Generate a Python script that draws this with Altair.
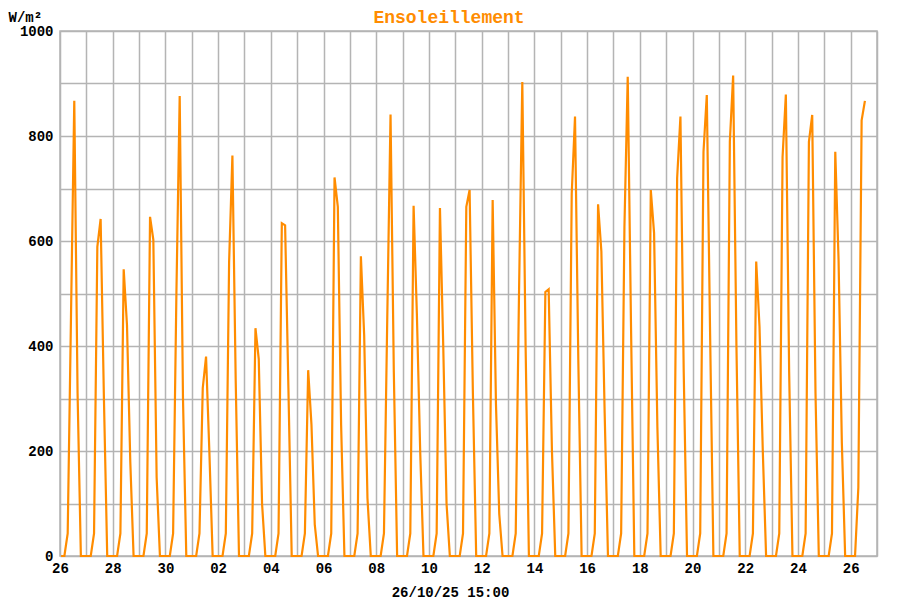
import altair as alt
import pandas as pd

# Irradiance (W/m²) sampled every 3 hours: 01h, 04h, 07h, 10h, 13h, 16h, 19h, 22h
sep26 = [0, 0, 43, 455, 867, 310, 0, 0]
sep27 = [0, 0, 43, 589, 642, 300, 0, 0]
sep28 = [0, 0, 43, 546, 440, 180, 0, 0]
sep29 = [0, 0, 43, 646, 602, 150, 0, 0]
sep30 = [0, 0, 43, 500, 876, 300, 0, 0]
oct01 = [0, 0, 43, 320, 380, 200, 0, 0]
oct02 = [0, 0, 43, 560, 763, 335, 0, 0]
oct03 = [0, 0, 43, 434, 375, 100, 0, 0]
oct04 = [0, 0, 43, 634, 630, 320, 0, 0]
oct05 = [0, 0, 43, 354, 250, 60, 0, 0]
oct06 = [0, 0, 43, 721, 665, 250, 0, 0]
oct07 = [0, 0, 43, 571, 420, 110, 0, 0]
oct08 = [0, 0, 43, 450, 841, 350, 0, 0]
oct09 = [0, 0, 43, 667, 460, 200, 0, 0]
oct10 = [0, 0, 43, 663, 400, 100, 0, 0]
oct11 = [0, 0, 43, 665, 697, 310, 0, 0]
oct12 = [0, 0, 43, 678, 290, 80, 0, 0]
oct13 = [0, 0, 43, 500, 903, 400, 0, 0]
oct14 = [0, 0, 43, 503, 508, 200, 0, 0]
oct15 = [0, 0, 43, 690, 837, 373, 0, 0]
oct16 = [0, 0, 43, 670, 580, 272, 0, 0]
oct17 = [0, 0, 43, 627, 913, 437, 0, 0]
oct18 = [0, 0, 43, 697, 615, 246, 0, 0]
oct19 = [0, 0, 43, 720, 837, 350, 0, 0]
oct20 = [0, 0, 43, 770, 878, 425, 0, 0]
oct21 = [0, 0, 43, 790, 915, 400, 0, 0]
oct22 = [0, 0, 43, 561, 437, 200, 0, 0]
oct23 = [0, 0, 43, 760, 879, 350, 0, 0]
oct24 = [0, 0, 43, 789, 840, 310, 0, 0]
oct25 = [0, 0, 43, 770, 564, 215, 0, 0]
oct26 = [0, 0, 130, 830, 867]

days = [sep26, sep27, sep28, sep29, sep30, oct01, oct02, oct03, oct04, oct05,
        oct06, oct07, oct08, oct09, oct10, oct11, oct12, oct13, oct14, oct15,
        oct16, oct17, oct18, oct19, oct20, oct21, oct22, oct23, oct24, oct25, oct26]

title_text = ["Ensoleillement"]
unit_text = "W/m²"
update_text = "26/10/25 15:00"

values = [v for d in days for v in d]
times = pd.date_range("2025-09-26 01:00", periods=len(values), freq="3h")
df = pd.DataFrame({"t": times.strftime("%Y-%m-%dT%H:%M:%SZ"), "v": values})

T0 = int(pd.Timestamp("2025-09-26", tz="UTC").timestamp() * 1000)
DAY = 86400000
day_ticks = [T0 + i * DAY for i in range(32)]

FONT = "Liberation Mono"
GRID = "#b4b4b4"
ORANGE = "#ff8c00"

line = alt.Chart(df).mark_line(color=ORANGE, strokeWidth=2.2).encode(
    x=alt.X("t:T",
            scale=alt.Scale(type="utc", domain=[T0, T0 + 31 * DAY]),
            axis=alt.Axis(values=day_ticks, ticks=False, domain=False,
                          labelExpr=f"(round((datum.value - {T0}) / {DAY}) % 2 == 0) ? utcFormat(datum.value, '%d') : ''",
                          labelPadding=5, labelFlush=False,
                          title=update_text, titleX=390, titleY=36,
                          titleAnchor="start", titleAlign="center", titleBaseline="middle")),
    y=alt.Y("v:Q",
            scale=alt.Scale(domain=[0, 1000], nice=False),
            axis=alt.Axis(values=list(range(0, 1001, 100)), ticks=False, domain=False,
                          labelExpr="datum.value % 200 == 0 ? datum.label : ''",
                          format="d", labelPadding=7,
                          title=unit_text, titleAngle=0, titleX=-52, titleY=-14,
                          titleAlign="left", titleBaseline="middle")),
)

title = alt.Chart(pd.DataFrame({"label": title_text})).mark_text(
    color=ORANGE, font=FONT, fontSize=18, fontWeight="bold",
    align="center", baseline="middle",
).encode(text="label:N", x=alt.value(389), y=alt.value(-13))

chart = alt.layer(line, title).properties(
    width=817, height=525,
    autosize=alt.AutoSizeParams(type="none"),
    padding={"left": 52, "top": 23, "right": 15, "bottom": 44},
).configure_view(stroke=GRID, strokeWidth=1.5).configure_axis(
    grid=True, gridColor=GRID, gridWidth=1.5, gridOpacity=1,
    labelFont=FONT, labelFontSize=14, labelFontWeight="bold", labelColor="#000",
    titleFont=FONT, titleFontSize=14, titleFontWeight="bold", titleColor="#000",
)

chart.save("out.html", embed_options={"renderer": "svg", "actions": False})
